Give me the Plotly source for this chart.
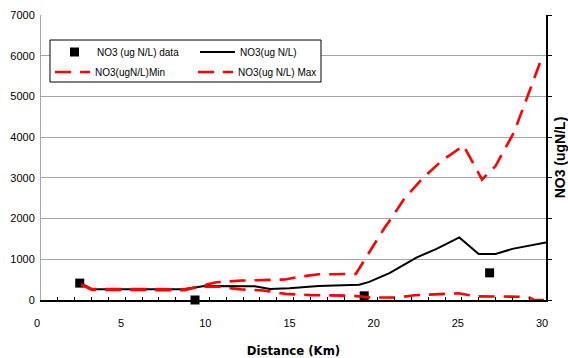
import plotly.graph_objects as go

# ---- data ----
data_km = [2.3, 9.15, 19.2, 26.65]
data_no3 = [415, 0, 103, 667]

model_km = [2.4, 3.0, 8.5, 9.7, 12.7, 13.6, 14.75, 16.5, 18.9, 19.5, 20.7, 22.3, 23.5, 24.85, 26.0, 27.0, 28.0, 29.8, 30.0]
model_no3 = [410, 265, 265, 345, 340, 270, 290, 342, 376, 444, 658, 1043, 1256, 1538, 1128, 1128, 1256, 1400, 1410]

min_km = [2.4, 3.0, 8.5, 9.3, 10.4, 11.9, 13.2, 14.5, 16.0, 18.5, 19.5, 21.1, 22.2, 23.5, 24.8, 25.8, 27.5, 28.9, 29.3, 30.0]
min_no3 = [380, 250, 240, 320, 330, 260, 235, 150, 120, 105, 65, 60, 115, 145, 165, 90, 85, 80, 0, 0]

max_km = [2.4, 3.0, 8.5, 9.3, 10.4, 11.9, 13.2, 14.5, 15.5, 16.5, 18.7, 20.4, 20.8, 21.6, 22.7, 23.8, 25.1, 26.2, 27.0, 28.1, 28.9, 29.8]
max_no3 = [380, 270, 265, 320, 435, 478, 490, 505, 580, 632, 640, 1770, 2000, 2500, 3000, 3420, 3790, 2960, 3290, 4120, 5000, 6000]

x_ticks = [0, 5, 10, 15, 20, 25, 30]
y_ticks = [0, 1000, 2000, 3000, 4000, 5000, 6000, 7000]

COND = "DejaVu Sans Condensed, Liberation Sans Narrow, Liberation Sans, Arial, sans-serif"
REG = "Liberation Sans, Arial, sans-serif"
RED = "#ff0000"

fig = go.Figure()
fig.add_trace(go.Scatter(x=data_km, y=data_no3, mode="markers", name="NO3 (ug N/L) data",
                         marker=dict(symbol="square", size=9, color="black"),
                         cliponaxis=False, legend="legend"))
fig.add_trace(go.Scatter(x=model_km, y=model_no3, mode="lines", name="NO3(ug N/L)",
                         line=dict(color="black", width=2), legend="legend"))
fig.add_trace(go.Scatter(x=min_km, y=min_no3, mode="lines", name="NO3(ugN/L)Min",
                         line=dict(color=RED, width=2.6, dash="16px,9px"), legend="legend2"))
fig.add_trace(go.Scatter(x=max_km, y=max_no3, mode="lines", name="NO3(ug N/L) Max",
                         line=dict(color=RED, width=2.6, dash="16px,9px"), legend="legend2",
                         yaxis="y2"))

W, H = 568, 358
L, R, T, B = 41, 22, 15, 58
pw, ph = W - L - R, H - T - B

def px(x):
    return (x - L) / pw

def py(y):
    return (H - B - y) / ph

leg_common = dict(orientation="h", xanchor="left", yanchor="middle",
                  bgcolor="rgba(0,0,0,0)", borderwidth=0, entrywidth=93,
                  font=dict(family=REG, size=10, color="black"), itemwidth=35)

fig.update_layout(
    width=W, height=H,
    margin=dict(l=L, r=R, t=T, b=B, autoexpand=False),
    paper_bgcolor="white", plot_bgcolor="white",
    font=dict(family=REG, size=11, color="black"),
    showlegend=True,
    legend=dict(x=px(52), y=py(52), **leg_common),
    legend2=dict(x=px(50), y=py(72), **leg_common),
    xaxis=dict(range=[0, 30], tickvals=x_ticks, ticks="inside", ticklen=3, tickcolor="black",
               minor=dict(dtick=1, ticks="inside", ticklen=3, tickcolor="black"),
               showline=True, linecolor="black", linewidth=1.5, showgrid=False, zeroline=False,
               ticklabelstandoff=12, ticklabelshift=-4,
               tickfont=dict(family=REG, size=11, color="black"),
               title=dict(text="Distance (Km)", standoff=18,
                          font=dict(family=COND, size=13, color="black", weight="bold"))),
    yaxis=dict(range=[0, 7000], tickvals=y_ticks, tickformat="d", ticks="",
               showline=True, linecolor="#a6a6a6", linewidth=1, mirror=False,
               showgrid=True, gridcolor="#a6a6a6", gridwidth=1, zeroline=False,
               ticklabelstandoff=3,
               tickfont=dict(family=REG, size=11, color="black")),
    yaxis2=dict(range=[0, 7000], tickvals=y_ticks, overlaying="y", side="right", anchor="x",
                showline=True, linecolor="black", linewidth=1.5, ticks="outside", ticklen=4,
                tickcolor="black", showticklabels=False, showgrid=False, zeroline=False,
                title=dict(text="NO3 (ugN/L)", standoff=6,
                           font=dict(family=REG, size=14, color="black", weight="bold"))),
    shapes=[dict(type="rect", xref="paper", yref="paper",
                 x0=px(50), x1=px(321), y0=py(82), y1=py(40),
                 line=dict(color="black", width=1), fillcolor="white", layer="above")],
)

fig.write_html("out.html", config={"displayModeBar": False},
               post_script="document.body.style.margin='0';document.body.style.padding='0';")
